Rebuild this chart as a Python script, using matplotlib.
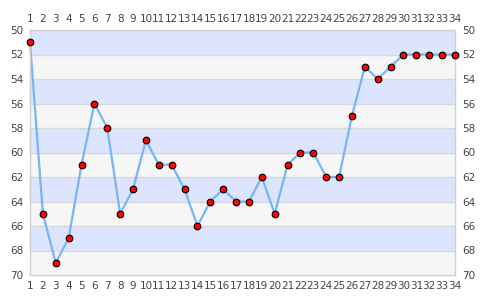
import matplotlib

matplotlib.use("Agg")
import matplotlib.pyplot as plt

# x positions and values (y axis is inverted: 50 at top, 70 at bottom)
positions = list(range(1, 35))
values = [51, 65, 69, 67, 61, 56, 58, 65, 63, 59,
          61, 61, 63, 66, 64, 63, 64, 64, 62, 65,
          61, 60, 60, 62, 62, 57, 53, 54, 53, 52,
          52, 52, 52, 52]
y_ticks = [50, 52, 54, 56, 58, 60, 62, 64, 66, 68, 70]

W, H = 485, 300
fig = plt.figure(figsize=(W / 100, H / 100), dpi=100)
ax = fig.add_axes([30 / W, 25 / H, 425 / W, 245 / H])

# alternating horizontal bands
for i, lo in enumerate(y_ticks[:-1]):
    color = "#dde4fd" if i % 2 == 0 else "#f6f6f6"
    ax.axhspan(lo, lo + 2, color=color, zorder=0, lw=0)
for t in y_ticks[1:-1]:
    ax.axhline(t, color="#d8d8d8", lw=1, zorder=1)

ax.plot(positions, values, color="#78b4f6", lw=1.6, zorder=2, clip_on=False)
ax.plot(positions, values, ls="none", marker="o", ms=4.8, mfc="#ff0000",
        mec="black", mew=0.8, zorder=3, clip_on=False)

ax.set_xlim(1, 34)
ax.set_ylim(70, 50)
ax.set_xticks(positions)
ax.set_yticks(y_ticks)
ax.tick_params(axis="both", length=0, labelsize=7.5, labelcolor="#444444", pad=5)
ax.tick_params(axis="x", top=True, labeltop=True, pad=4)
ax.tick_params(axis="y", right=True, labelright=True)
for side, sp in ax.spines.items():
    sp.set_color("#d0d0d0")
    sp.set_linewidth(1)

fig.savefig("out.png", dpi=100)
